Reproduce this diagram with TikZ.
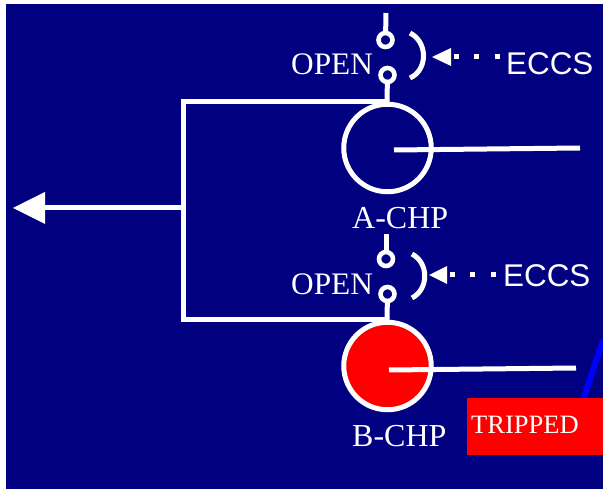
\documentclass[tikz,border=0pt]{standalone}
\usepackage{fontspec}
\setmainfont{Liberation Serif}
\newfontfamily\eccsfont{Liberation Sans}
\usetikzlibrary{arrows.meta}
\definecolor{bgnavy}{RGB}{0,0,128}
\tikzset{
  x=1pt,y=-1pt,
  wire/.style={draw=white,line width=5pt,line cap=butt},
  pin/.style={circle,draw=white,line width=4.6pt,fill=bgnavy,minimum size=14pt,inner sep=0pt,outer sep=0pt},
  chp/.style={circle,draw=white,line width=5pt,minimum size=87.5pt,inner sep=0pt,outer sep=0pt},
  lbl/.style={text=white,font=\fontsize{31.3}{31.3}\selectfont,inner sep=0pt,anchor=base west},
  chplabel/.style={text=white,font=\fontsize{32}{32}\selectfont,inner sep=0pt,anchor=base west},
  eccs/.style={text=white,font=\eccsfont\fontsize{31.4}{31.4}\selectfont,inner sep=0pt,anchor=base west},
  dots/.style={draw=white,line width=5pt,dash pattern=on 5pt off 15.5pt},
  head/.style={fill=white,draw=none},
  bracket/.style={draw=white,line width=5pt,line cap=butt}
}
\begin{document}
\begin{tikzpicture}
\useasboundingbox (0,0) rectangle (603,489);
\fill[white] (0,0) rectangle (603,489);
\fill[bgnavy] (6,4) rectangle (603,489);
% blue stroke behind the red box
\draw[blue,line width=6pt] (583,400) -- (603,340);
% unit A
\coordinate (topA) at (386,13);
\node[pin] (pinA1) at (385.5,40) {};
\node[pin] (pinA2) at (387.5,75) {};
\node[chp] (chpA) at (387.5,148) {};
\coordinate (busA) at (183,102);
\coordinate (junA) at (387,102);
\coordinate (hubA) at (394,150);
\coordinate (armA) at (580,148);
\draw[wire] (topA) -- (pinA1);
\draw[wire] (pinA2) -- (junA);
\draw[wire] (hubA) -- (armA);
\draw[bracket] (410,33) .. controls (428,42) and (428,70) .. (410,78);
\coordinate (tipA) at (432,57);
\fill[head] (tipA) -- (451,48) -- (451,66) -- cycle;
\coordinate (dotA) at (453.5,57);
\coordinate (eccsEndA) at (500,57);
\draw[dots] (dotA) -- (eccsEndA);
\node[lbl] (openA) at (291,75) {OPEN};
\node[eccs] (eccsA) at (506,75) {ECCS};
\node[chplabel] (nameA) at (352,229) {A-CHP};
% unit B
\coordinate (topB) at (386,234);
\node[pin] (pinB1) at (386,259) {};
\node[pin] (pinB2) at (387.5,294) {};
\node[chp,fill=red] (chpB) at (387.5,366) {};
\coordinate (busB) at (183,320);
\coordinate (junB) at (387,320);
\coordinate (hubB) at (389,370);
\coordinate (armB) at (576,368);
\draw[wire] (topB) -- (pinB1);
\draw[wire] (pinB2) -- (junB);
\draw[wire] (hubB) -- (armB);
\draw[bracket] (412,254) .. controls (429,263) and (429,289) .. (412,298);
\coordinate (tipB) at (429,275);
\fill[head] (tipB) -- (447,266) -- (447,284) -- cycle;
\coordinate (dotB) at (449.5,275);
\coordinate (eccsEndB) at (497,275);
\draw[dots] (dotB) -- (eccsEndB);
\node[lbl] (openB) at (291,295) {OPEN};
\node[eccs] (eccsB) at (503,287) {ECCS};
\node[chplabel] (nameB) at (352,446) {B-CHP};
% bus
\draw[wire,line join=miter] (junA) -- (busA) -- (busB) -- (junB);
\coordinate (junC) at (183,208);
\coordinate (tipC) at (13,208);
\draw[wire] (junC) -- (45,208);
\fill[head] (tipC) -- (45,192) -- (45,224) -- cycle;
% tripped flag
\node[fill=red,minimum width=136pt,minimum height=57pt,inner sep=0pt,outer sep=0pt,anchor=north west] (flag) at (467,398) {};
\node[text=white,font=\fontsize{26.5}{26.5}\selectfont,inner sep=0pt,anchor=base west] (trip) at (471,433) {TRIPPED};
\end{tikzpicture}
\end{document}
